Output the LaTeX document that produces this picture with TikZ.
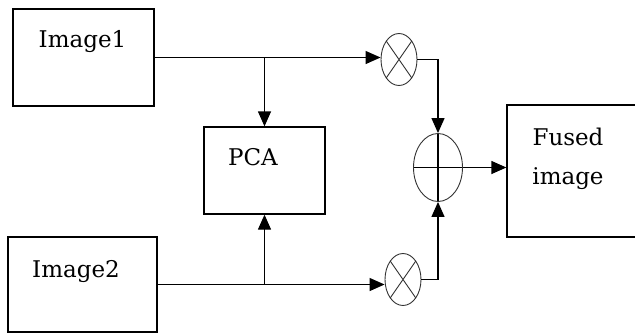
\documentclass[tikz,border=0pt]{standalone}
\usepackage{fontspec}
\setmainfont{DejaVu Serif}
\usetikzlibrary{arrows.meta,shapes.geometric}

\begin{document}
\begin{tikzpicture}[x=1pt,y=-1pt,
  box/.style={draw, line width=1.3pt, inner sep=0pt},
  lbl/.style={font=\fontsize{23}{27}\selectfont, anchor=base, inner sep=0pt},
  wire/.style={line width=1.3pt, -{Triangle[length=15pt,width=13pt]}},
  junc/.style={ellipse, draw=black!80, line width=0.9pt, inner sep=0pt},
  mult/.style={junc, minimum width=36pt, minimum height=52pt,
    path picture={\draw[black!80, line width=0.9pt]
      (path picture bounding box.north west) -- (path picture bounding box.south east)
      (path picture bounding box.north east) -- (path picture bounding box.south west);}},
  summ/.style={junc, minimum width=49pt, minimum height=68pt,
    path picture={\draw[black, line width=1.1pt]
      (path picture bounding box.north) -- (path picture bounding box.south)
      (path picture bounding box.west) -- (path picture bounding box.east);}}]
\useasboundingbox (0,0) rectangle (635,333);
\clip (0,0) rectangle (635,333);
% blocks
\node[box, minimum width=141pt, minimum height=97pt] (img1) at (83.5,57.5) {};
\node[box, minimum width=149pt, minimum height=95pt] (img2) at (82.5,284.5) {};
\node[box, minimum width=121pt, minimum height=87pt] (pca) at (264.5,170.5) {};
\node[box, minimum width=133pt, minimum height=132pt] (fused) at (573.5,171) {};
\node[lbl] (img1txt) at (82.5,47) {Image1};
\node[lbl] (img2txt) at (76,277) {Image2};
\node[lbl] (pcatxt) at (253,165) {PCA};
\node[lbl] (fusedtxt) at (568,145) {Fused};
\node[lbl] (imagetxt) at (568,184) {image};
% multipliers and adder
\node[mult] (mul1) at (399,59.5) {};
\node[mult] (mul2) at (403,279.5) {};
\node[summ] (add) at (438,167.5) {};
% connections
\draw[wire] (img1.east) -- (img1.east -| mul1.west);
\draw[wire] (img1.east -| pca.north) -- (pca.north);
\draw[wire] (img2.east) -- (img2.east -| mul2.west);
\draw[wire] (img2.east -| pca.south) -- (pca.south);
\draw[wire] (mul1.east) -| (add.north);
\draw[wire] (mul2.east) -| (add.south);
\draw[wire] (add.east) -- (add.east -| fused.west);
\end{tikzpicture}
\end{document}
